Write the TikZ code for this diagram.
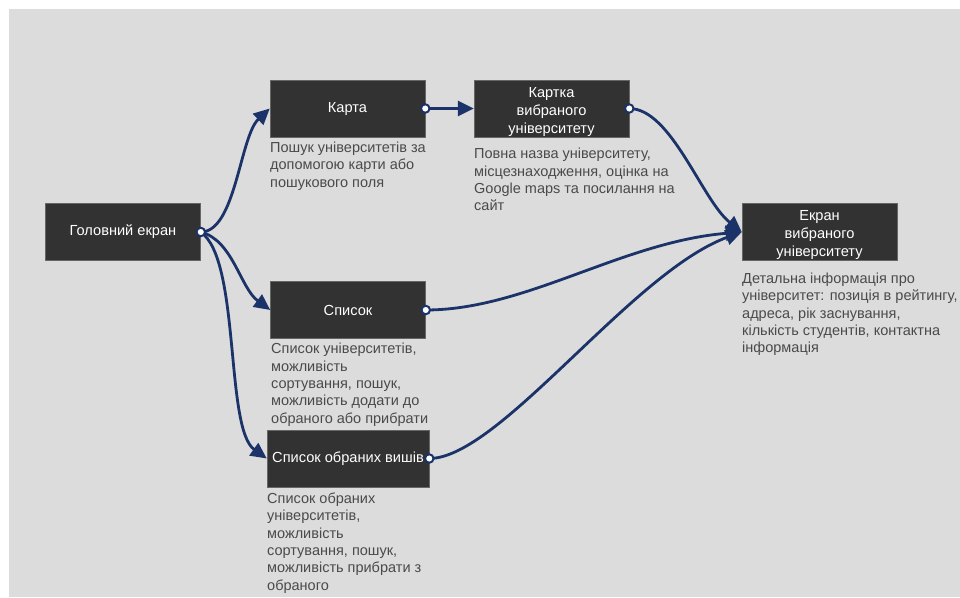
\documentclass[tikz,border=0pt]{standalone}
\usepackage{fontspec}
\setmainfont{Liberation Sans}
\usetikzlibrary{arrows.meta}
\definecolor{canvas}{HTML}{DCDCDC}
\definecolor{screenfill}{HTML}{323232}
\definecolor{navy}{HTML}{1B3368}
\definecolor{notegray}{HTML}{4A4A4A}
\newcommand{\threelines}[3]{\raisebox{-3pt}[\height][\depth]{\begin{tabular}{@{}c@{}}#1\\#2\\#3\end{tabular}}}
\begin{document}
\begin{tikzpicture}[x=1pt,y=-1pt,
  screen/.style={draw=black!60, line width=0.5pt, fill=screenfill, text=white,
    minimum width=155pt, minimum height=57pt, inner sep=0pt, align=center,
    font=\fontsize{14.6}{18}\selectfont},
  note/.style={anchor=north west, inner sep=0pt, align=left, text=notegray,
    font=\fontsize{14.5}{17.4}\selectfont},
  flow/.style={navy, line width=2.8pt, -{Triangle[length=16pt,width=15pt]}},
  port/.style={circle, draw=navy, fill=white, line width=2pt, inner sep=0pt, minimum size=8.5pt}]
  \useasboundingbox (0,0) rectangle (960,597);
  \fill[canvas] (9,9) rectangle (960,597);
  % screens
  \node[screen] (main) at (123,232) {Головний екран};
  \node[screen] (map) at (347.5,108.5) {Карта};
  \node[screen] (card) at (551.5,108.5) {\threelines{Картка}{вибраного}{університету}};
  \node[screen] (uni) at (819.5,232) {\threelines{Екран}{вибраного}{університету}};
  \node[screen] (list) at (348,310) {Список};
  \node[screen, minimum width=162pt] (fav) at (348,458.5) {Список обраних вишів};
  % notes under the screens
  \node[note] (mapnote) at (270,141.5) {Пошук університетів за\\допомогою карти або\\пошукового поля};
  \node[note] (cardnote) at (474,148) {Повна назва університету,\\місцезнаходження, оцінка на\\Google maps та посилання на\\сайт};
  \node[note] (uninote) at (742,272.5) {Детальна інформація про\\університет: позиція в рейтингу,\\адреса, рік заснування,\\кількість студентів, контактна\\інформація};
  \node[note] (listnote) at (271,343) {Список університетів,\\можливість\\сортування, пошук,\\можливість додати до\\обраного або прибрати};
  \node[note] (favnote) at (267,492.5) {Список обраних\\університетів,\\можливість\\сортування, пошук,\\можливість прибрати з\\обраного};
  % connectors
  \draw[flow] (main.east) .. controls +(35,0) and +(-30,28) .. (map.west);
  \draw[flow] (main.east) .. controls +(32,8) and +(-30,-22) .. (list.west);
  \draw[flow] (main.east) .. controls +(40,28) and +(-42,-30) .. (fav.west);
  \draw[flow] (map.east) -- (card.west);
  \draw[flow] (card.east) .. controls +(42,0) and +(-40,-32) .. (uni.west);
  \draw[flow] (list.east) .. controls +(100,0) and +(-120,10) .. (uni.west);
  \draw[flow] (fav.east) .. controls +(70,0) and +(-110,40) .. (uni.west);
  % ports
  \foreach \s in {main,map,card,list,fav}
    \node[port] at (\s.east) {};
\end{tikzpicture}
\end{document}
